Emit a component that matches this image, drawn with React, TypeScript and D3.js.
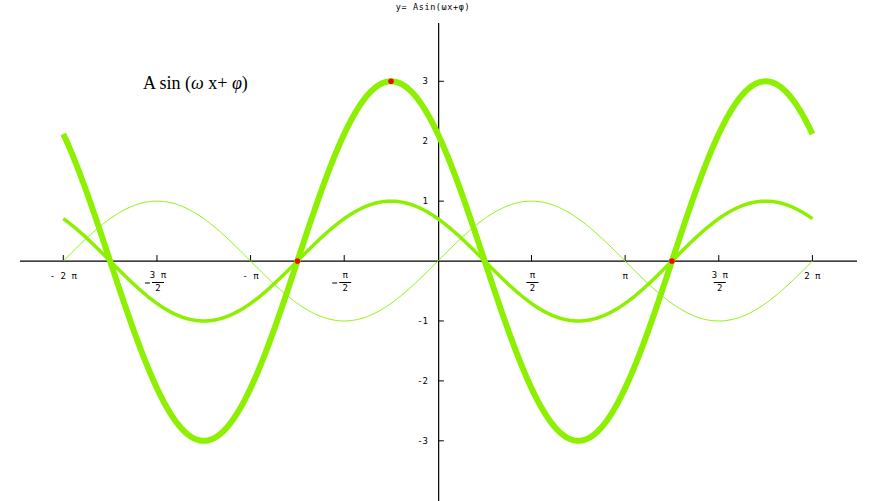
import React from "react";
import * as d3 from "d3";

// Curve parameters: y = A sin(ω x + φ)
const curveNames = ["sin x", "sin(x+3π/4)", "3 sin(x+3π/4)"];
const amplitudes = [1, 1, 3];
const omegas = [1, 1, 1];
const phases = [0, (3 * Math.PI) / 4, (3 * Math.PI) / 4];

// Highlighted points (x, y)
const markX = [(-3 * Math.PI) / 4, -Math.PI / 4, (5 * Math.PI) / 4];
const markY = [0, 3, 0];

// Axis ticks
const xTickValues = [-2, -1.5, -1, -0.5, 0.5, 1, 1.5, 2];
const xTickNum = ["2 π", "3 π", "π", "π", "π", "π", "3 π", "2 π"];
const xTickDen = ["", "2", "", "2", "2", "", "2", ""];
const xTickNeg = [true, true, true, true, false, false, false, false];
const yTickValues = [3, 2, 1, -1, -2, -3];

const W = 877;
const H = 501;
const GREEN = "#8cf000";
const strokeWidths = [1, 3.5, 6];
const pixFont = "'DejaVu Sans Mono', monospace";

export default function App() {
  const x = d3.scaleLinear().domain([-2 * Math.PI, 2 * Math.PI]).range([63.3, 812.4]);
  const y = d3.scaleLinear().domain([-3, 3]).range([440.8, 81.3]);
  const x0 = x(0);
  const y0 = y(0);
  const samples = d3.range(0, 801).map((i) => -2 * Math.PI + (4 * Math.PI * i) / 800);

  const paths = curveNames.map((_, k) =>
    d3
      .line<number>()
      .x((t) => x(t))
      .y((t) => y(amplitudes[k] * Math.sin(omegas[k] * t + phases[k])))(samples)
  );

  return (
    <svg
      width={W}
      height={H}
      style={{ position: "absolute", left: 0, top: 0, background: "#fff" }}
    >
      {/* title */}
      <text x={433} y={10} fontFamily={pixFont} fontSize={8.5} letterSpacing={0.6} textAnchor="middle" fill="#000">
        y=  Asin(ωx+φ)
      </text>
      {/* axes */}
      <line x1={20} x2={857} y1={y0} y2={y0} stroke="#000" strokeWidth={1.2} />
      <line x1={x0 + 0.8} x2={x0 + 0.8} y1={23} y2={501} stroke="#000" strokeWidth={1.2} />
      {/* x ticks */}
      {xTickValues.map((v, i) => {
        const px = x(v * Math.PI);
        const frac = xTickDen[i] !== "";
        return (
          <g key={"xt" + i}>
            <line x1={px} x2={px} y1={y0} y2={y0 - 6} stroke="#000" strokeWidth={1} />
            {frac ? (
              <g fontFamily={pixFont} fontSize={9} fill="#000">
                {xTickNeg[i] && (
                  <line x1={px - 12} x2={px - 7} y1={283} y2={283} stroke="#000" strokeWidth={1} />
                )}
                <text x={px + 1} y={278} textAnchor="middle">
                  {xTickNum[i]}
                </text>
                <line x1={px - 5} x2={px + 7} y1={282.5} y2={282.5} stroke="#000" strokeWidth={1} />
                <text x={px + 1} y={291} textAnchor="middle">
                  {xTickDen[i]}
                </text>
              </g>
            ) : (
              <text x={px} y={279} textAnchor="middle" fontFamily={pixFont} fontSize={9} fill="#000">
                {(xTickNeg[i] ? "- " : "") + xTickNum[i]}
              </text>
            )}
          </g>
        );
      })}
      {/* y ticks */}
      {yTickValues.map((v, i) => (
        <g key={"yt" + i}>
          <line x1={x0 + 0.8} x2={x0 + 6} y1={y(v)} y2={y(v)} stroke="#000" strokeWidth={1} />
          <text
            x={428}
            y={y(v) + 3}
            textAnchor="end"
            fontFamily={pixFont}
            fontSize={9}
            fill="#000"
          >
            {v < 0 ? "-" + Math.abs(v) : String(v)}
          </text>
        </g>
      ))}
      {/* curves */}
      {paths.map((d, k) => (
        <path
          key={"c" + k}
          d={d || ""}
          fill="none"
          stroke={GREEN}
          strokeWidth={strokeWidths[k]}
          strokeLinejoin="round"
        />
      ))}
      {/* marked points */}
      {markX.map((mx, i) => (
        <circle key={"m" + i} cx={x(mx)} cy={y(markY[i])} r={2.8} fill="#ff0000" />
      ))}
      {/* label */}
      <text x={143} y={89} fontFamily="'Liberation Serif', 'Times New Roman', serif" fontSize={18} fill="#000">
        A  sin (<tspan fontStyle="italic">ω</tspan> x+ <tspan fontStyle="italic">φ</tspan>)
      </text>
    </svg>
  );
}
